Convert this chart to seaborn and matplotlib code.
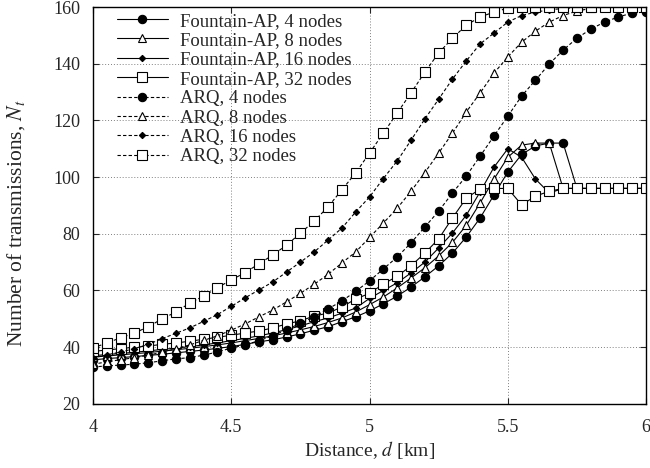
import numpy as np
import pandas as pd
import matplotlib
matplotlib.use("Agg")
import matplotlib.pyplot as plt
import seaborn as sns

# distance grid, 0.05 km steps
distance = np.round(np.arange(4.0, 6.0001, 0.05), 2)

fap_4 = [35.5, 36.0, 36.3, 36.7, 37.1, 37.5, 38.0, 38.5, 39.0, 39.6,
         40.2, 41.0, 41.9, 42.6, 43.6, 44.7, 46.0, 47.2, 49.0, 50.7,
         52.8, 55.3, 58.0, 61.2, 64.8, 68.7, 73.2, 78.9, 85.6, 93.7,
         101.8, 108.0, 111.0, 112.0, 112.0, 96.0, 96.0, 96.0, 96.0, 96.0, 96.0]
fap_8 = [36.5, 36.9, 37.3, 37.7, 38.1, 38.6, 39.1, 39.6, 40.2, 40.8,
         41.5, 42.3, 43.1, 44.0, 45.0, 46.1, 47.3, 48.7, 50.3, 52.4,
         55.0, 57.7, 60.9, 64.4, 68.0, 72.2, 77.0, 83.0, 90.9, 99.3,
         107.0, 111.3, 112.0, 112.0, 96.0, 96.0, 96.0, 96.0, 96.0, 96.0, 96.0]
fap_16 = [37.0, 37.4, 37.8, 38.2, 38.7, 39.2, 39.7, 40.2, 40.8, 41.5,
          42.3, 43.1, 44.0, 45.0, 46.2, 47.5, 49.0, 50.3, 52.0, 53.8,
          57.2, 60.0, 62.7, 66.2, 70.0, 75.0, 80.3, 86.6, 94.8, 103.5,
          110.0, 107.0, 99.3, 94.4, 96.0, 96.0, 96.0, 96.0, 96.0, 96.0, 96.0]
fap_32 = [38.5, 39.0, 39.5, 40.0, 40.4, 41.0, 41.5, 42.1, 42.8, 43.5,
          44.2, 45.0, 45.7, 46.8, 48.2, 49.3, 51.0, 52.0, 54.2, 57.0,
          59.0, 62.3, 65.0, 68.7, 73.2, 78.2, 85.6, 92.6, 95.8, 96.0,
          96.0, 90.2, 93.3, 95.0, 96.0, 96.0, 96.0, 96.0, 96.0, 96.0, 96.0]

arq_4 = [33.0, 33.4, 33.7, 34.0, 34.5, 35.2, 35.9, 36.3, 37.2, 38.3,
         39.7, 40.8, 42.3, 44.0, 46.2, 48.4, 50.7, 53.5, 56.3, 59.7,
         63.4, 67.6, 71.8, 76.8, 82.4, 88.0, 94.4, 100.4, 107.4, 114.5,
         121.5, 128.6, 134.2, 139.9, 144.8, 149.0, 152.2, 154.7, 156.5, 157.9, 158.2]
arq_8 = [34.0, 34.8, 35.6, 36.3, 37.2, 38.2, 39.5, 40.8, 42.4, 44.0,
         46.0, 48.2, 50.7, 53.1, 56.0, 59.0, 62.2, 65.7, 69.7, 73.6,
         78.7, 83.8, 89.0, 95.0, 101.6, 108.5, 115.5, 123.0, 129.7, 136.7,
         142.4, 147.6, 151.5, 154.7, 157.0, 158.6, 159.5, 160.0, 160.0, 160.0, 160.0]
arq_16 = [36.2, 37.3, 38.3, 39.5, 41.0, 43.0, 44.9, 46.8, 49.1, 51.5,
          54.4, 57.4, 60.2, 63.0, 66.5, 70.0, 73.6, 77.8, 82.0, 87.7,
          93.0, 99.5, 105.7, 113.0, 120.5, 127.5, 134.6, 141.0, 147.0, 150.8,
          154.7, 157.0, 158.2, 159.0, 159.5, 159.8, 160.0, 160.0, 160.0, 160.0, 160.0]
arq_32 = [39.7, 41.5, 43.3, 45.0, 47.2, 50.0, 52.4, 55.6, 58.0, 61.0,
          63.7, 66.3, 69.4, 72.5, 76.0, 80.2, 84.5, 89.5, 95.5, 101.5,
          108.5, 115.5, 122.6, 129.7, 137.0, 143.8, 149.0, 153.6, 156.5, 158.2,
          159.6, 160.0, 160.0, 160.0, 160.0, 160.0, 160.0, 160.0, 160.0, 160.0, 160.0]

labels = ["Fountain-AP, 4 nodes", "Fountain-AP, 8 nodes",
          "Fountain-AP, 16 nodes", "Fountain-AP, 32 nodes",
          "ARQ, 4 nodes", "ARQ, 8 nodes", "ARQ, 16 nodes", "ARQ, 32 nodes"]
series = [fap_4, fap_8, fap_16, fap_32, arq_4, arq_8, arq_16, arq_32]

sns.set_style("ticks")
plt.rcParams["font.family"] = ["Liberation Serif", "DejaVu Serif"]
plt.rcParams["mathtext.fontset"] = "stix"

# marker styles: (marker, size, filled)
marker_styles = [("o", 6, True), ("^", 6, False), ("D", 3.2, True), ("s", 6.5, False)]

fig = plt.figure(figsize=(6.5, 4.68), dpi=100)
ax = fig.add_axes([0.143, 0.137, 0.851, 0.848])

for i, (lab, vals) in enumerate(zip(labels, series)):
    mk, ms, filled = marker_styles[i % 4]
    ls = "-" if i < 4 else (0, (3, 2))
    sns.lineplot(x=distance, y=vals, ax=ax, label=lab, color="black",
                 linewidth=0.8, linestyle=ls, marker=mk, markersize=ms,
                 markerfacecolor="black" if filled else "white",
                 markeredgecolor="black", markeredgewidth=0.8)

ax.set_xlim(4, 6)
ax.set_ylim(20, 160)
ax.set_xticks([4, 4.5, 5, 5.5, 6])
ax.set_xticklabels(["4", "4.5", "5", "5.5", "6"])
ax.set_yticks(range(20, 161, 20))
ax.tick_params(direction="in", top=True, right=True, labelsize=13, length=4)
ax.tick_params(axis="x", pad=11)
ax.tick_params(axis="y", pad=9)
ax.grid(True, linestyle=(0, (1, 2)), color="gray", linewidth=0.7)
for sp in ax.spines.values():
    sp.set_linewidth(1.0)
    sp.set_color("black")

ax.set_xlabel("Distance, $d$ [km]", fontsize=14, labelpad=2)
ax.set_ylabel("Number of transmissions, $N_t$", fontsize=15.5)
ax.yaxis.set_label_coords(-0.12, 0.455)

ax.legend(loc="upper left", frameon=False, fontsize=13.5, handlelength=2.7,
          labelspacing=0.12, borderaxespad=0.0, borderpad=0.4,
          bbox_to_anchor=(0.03, 1.005), handletextpad=0.65)

plt.savefig("out.png", dpi=100)
plt.close()
